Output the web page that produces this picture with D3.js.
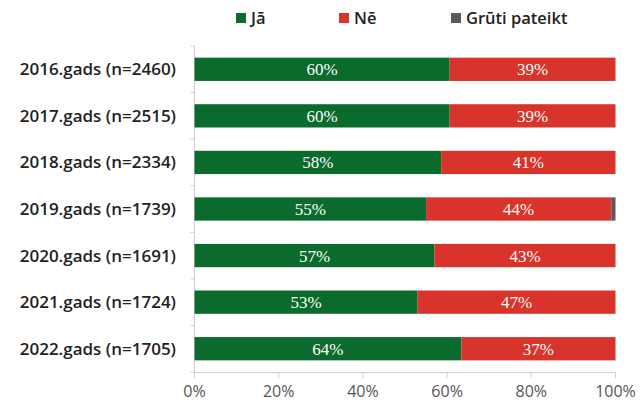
<!DOCTYPE html>
<html><head><meta charset="utf-8">
<script src="https://cdn.jsdelivr.net/npm/d3@7"></script>
<style>body{margin:0;background:#fff}</style>
</head><body>
<svg id="c" width="642" height="409"></svg>
<script>
const categories = ["2016.gads (n=2460)","2017.gads (n=2515)","2018.gads (n=2334)","2019.gads (n=1739)","2020.gads (n=1691)","2021.gads (n=1724)","2022.gads (n=1705)"];
const yesValues = [60, 60, 58, 55, 57, 53, 64];
const noValues = [39, 39, 41, 44, 43, 47, 37];
const hardValues = [0, 0, 0, 1, 0, 0, 0];
const seriesNames = ["Jā", "Nē", "Grūti pateikt"];
const seriesColors = ["#0b6b2c", "#d8342b", "#5a5a5a"];
const tickValues = [0, 0.2, 0.4, 0.6, 0.8, 1];

const rows = categories.map((c, i) => ({cat: c, yes: yesValues[i], no: noValues[i], hard: hardValues[i]}));
const keys = ["yes", "no", "hard"];
const stacked = d3.stack().keys(keys).offset(d3.stackOffsetExpand)(rows);

const svg = d3.select("#c");
const x = d3.scaleLinear().domain([0, 1]).range([194.5, 615.5]);
const y = d3.scaleBand().domain(categories).range([46, 372]).paddingInner(0.5).paddingOuter(0.25);

// axes lines
const axisCol = "#d0d0d0";
svg.append("line").attr("x1", x(0)).attr("x2", x(0)).attr("y1", 46).attr("y2", 372.5).attr("stroke", axisCol);
svg.append("line").attr("x1", x(0)).attr("x2", x(1)).attr("y1", 372.5).attr("y2", 372.5).attr("stroke", axisCol);
// left ticks between categories
const bounds = d3.range(categories.length + 1).map(i => 46 + i * y.step());
svg.selectAll(".ltick").data(bounds).join("line")
  .attr("x1", x(0) - 4).attr("x2", x(0)).attr("y1", d => d).attr("y2", d => d).attr("stroke", axisCol);
// bottom ticks
svg.selectAll(".btick").data(tickValues).join("line")
  .attr("x1", d => x(d)).attr("x2", d => x(d)).attr("y1", 372.5).attr("y2", 378).attr("stroke", axisCol);
svg.selectAll(".blab").data(tickValues).join("text")
  .attr("x", d => x(d)).attr("y", 397).attr("text-anchor", "middle")
  .attr("font-family", "Open Sans, sans-serif").attr("font-size", 16).attr("fill", "#555")
  .text(d => d3.format(".0%")(d));

// category labels
svg.selectAll(".clab").data(categories).join("text")
  .attr("x", 176).attr("y", d => y(d) + y.bandwidth() / 2 + 6)
  .attr("text-anchor", "end").attr("font-family", "Open Sans, sans-serif").attr("font-size", 17)
  .attr("font-weight", 600).attr("fill", "#222").text(d => d);

// bars
const g = svg.selectAll(".series").data(stacked).join("g").attr("fill", (d, i) => seriesColors[i]);
g.selectAll("rect").data(d => d).join("rect")
  .attr("x", d => x(d[0])).attr("width", d => x(d[1]) - x(d[0]))
  .attr("y", d => y(d.data.cat)).attr("height", y.bandwidth());

// value labels
stacked.forEach((s, si) => {
  if (si > 1) return;
  svg.append("g").selectAll("text").data(s).join("text")
    .attr("x", d => (x(d[0]) + x(d[1])) / 2)
    .attr("y", d => y(d.data.cat) + y.bandwidth() / 2 + 6)
    .attr("text-anchor", "middle").attr("font-family", "Liberation Serif, serif").attr("font-size", 17)
    .attr("fill", "#fff").text(d => d.data[keys[si]] + "%");
});

// legend
const legendX = [236, 339, 451];
const lg = svg.selectAll(".leg").data(seriesNames).join("g")
  .attr("transform", (d, i) => `translate(${legendX[i]},13)`);
lg.append("rect").attr("width", 10).attr("height", 10).attr("fill", (d, i) => seriesColors[i]);
lg.append("text").attr("x", 15).attr("y", 10.5).attr("font-family", "Open Sans, sans-serif")
  .attr("font-size", 16.5).attr("font-weight", 600).attr("fill", "#222").text(d => d);
</script>
</body></html>
